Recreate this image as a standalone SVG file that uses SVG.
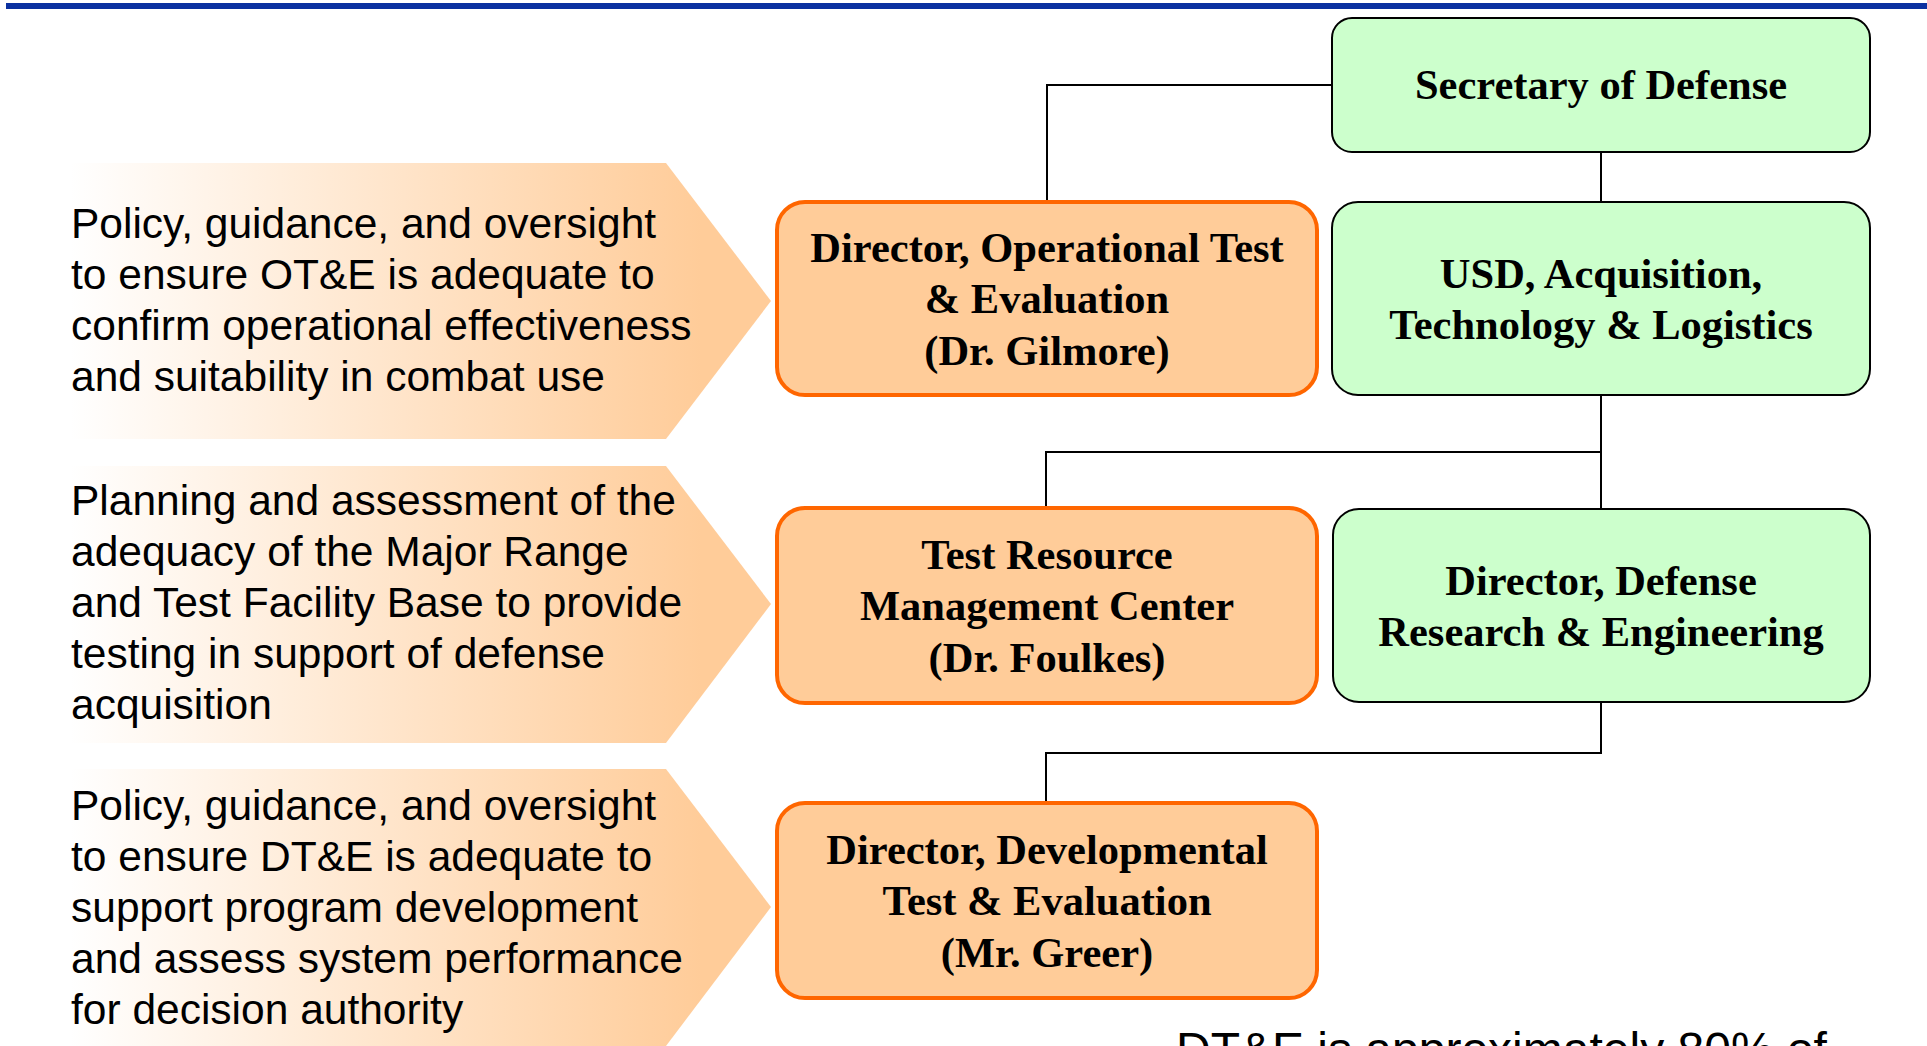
<svg xmlns="http://www.w3.org/2000/svg" width="1927" height="1046" viewBox="0 0 1927 1046">
<defs>
<linearGradient id="arrowGrad" gradientUnits="userSpaceOnUse" x1="70" y1="0" x2="771" y2="0">
<stop offset="0" stop-color="#FFFFFF"/>
<stop offset="0.9" stop-color="#FFCC99"/>
<stop offset="1" stop-color="#FFCC99"/>
</linearGradient>
<style>
.green{fill:#CCFFCC;stroke:#000000;stroke-width:2}
.orange{fill:#FFCC99;stroke:#FF6600;stroke-width:4}
.node{font-family:"Liberation Serif","Times New Roman",serif;font-weight:bold;font-size:42.5px;fill:#000;text-anchor:middle}
.desc{font-family:"Liberation Sans",Arial,sans-serif;font-size:42.5px;fill:#000}
.conn{fill:none;stroke:#000;stroke-width:2}
.arrow{fill:url(#arrowGrad);stroke:none}
</style>
</defs>
<rect x="0" y="0" width="1927" height="1046" fill="#FFFFFF"/>
<rect x="6" y="3" width="1921" height="6" fill="#0B31A0"/>

<g id="descriptions">
<g id="desc-ote">
<polygon class="arrow" points="0,163 666,163 771,301 666,439 0,439"/>
<text class="desc" x="71" y="238">Policy, guidance, and oversight</text>
<text class="desc" x="71" y="289">to ensure OT&amp;E is adequate to</text>
<text class="desc" x="71" y="340">confirm operational effectiveness</text>
<text class="desc" x="71" y="391">and suitability in combat use</text>
</g>
<g id="desc-trmc">
<polygon class="arrow" points="0,466 666,466 771,604 666,743 0,743"/>
<text class="desc" x="71" y="515">Planning and assessment of the</text>
<text class="desc" x="71" y="566">adequacy of the Major Range</text>
<text class="desc" x="71" y="617">and Test Facility Base to provide</text>
<text class="desc" x="71" y="668">testing in support of defense</text>
<text class="desc" x="71" y="719">acquisition</text>
</g>
<g id="desc-dte">
<polygon class="arrow" points="0,769 666,769 771,907 666,1046 0,1046"/>
<text class="desc" x="71" y="820">Policy, guidance, and oversight</text>
<text class="desc" x="71" y="871">to ensure DT&amp;E is adequate to</text>
<text class="desc" x="71" y="922">support program development</text>
<text class="desc" x="71" y="973">and assess system performance</text>
<text class="desc" x="71" y="1024">for decision authority</text>
</g>
</g>

<g id="connectors">
<polyline class="conn" points="1332,85 1047,85 1047,202"/>
<line class="conn" x1="1601" y1="152" x2="1601" y2="202"/>
<line class="conn" x1="1601" y1="395" x2="1601" y2="509"/>
<polyline class="conn" points="1601,452 1046,452 1046,508"/>
<polyline class="conn" points="1601,702 1601,753 1046,753 1046,803"/>
</g>

<g id="secdef">
<rect class="green" x="1332" y="18" width="538" height="134" rx="20" ry="20"/>
<text class="node" x="1601" y="99">Secretary of Defense</text>
</g>
<g id="usd-atl">
<rect class="green" x="1332" y="202" width="538" height="193" rx="26" ry="26"/>
<text class="node" x="1601" y="288">USD, Acquisition,</text>
<text class="node" x="1601" y="339">Technology &amp; Logistics</text>
</g>
<g id="dote">
<rect class="orange" x="777" y="202" width="540" height="193" rx="28" ry="28"/>
<text class="node" x="1047" y="262">Director, Operational Test</text>
<text class="node" x="1047" y="313">&amp; Evaluation</text>
<text class="node" x="1047" y="365">(Dr. Gilmore)</text>
</g>
<g id="trmc">
<rect class="orange" x="777" y="508" width="540" height="195" rx="28" ry="28"/>
<text class="node" x="1047" y="569">Test Resource</text>
<text class="node" x="1047" y="620">Management Center</text>
<text class="node" x="1047" y="672">(Dr. Foulkes)</text>
</g>
<g id="ddre">
<rect class="green" x="1333" y="509" width="537" height="193" rx="26" ry="26"/>
<text class="node" x="1601" y="595">Director, Defense</text>
<text class="node" x="1601" y="646">Research &amp; Engineering</text>
</g>
<g id="ddte">
<rect class="orange" x="777" y="803" width="540" height="195" rx="28" ry="28"/>
<text class="node" x="1047" y="864">Director, Developmental</text>
<text class="node" x="1047" y="915">Test &amp; Evaluation</text>
<text class="node" x="1047" y="967">(Mr. Greer)</text>
</g>

<text class="desc" x="1176" y="1066" style="font-size:48px">DT&amp;E is approximately 80% of</text>
</svg>
